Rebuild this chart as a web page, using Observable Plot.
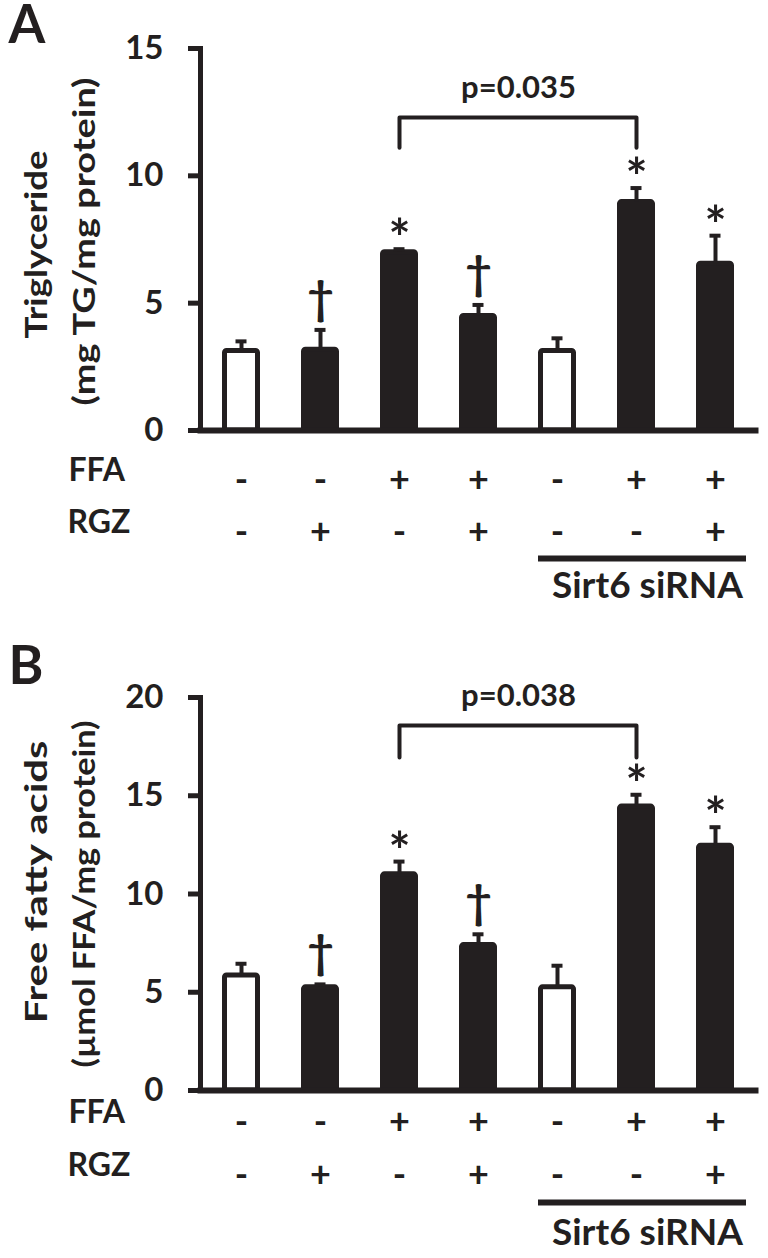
<!DOCTYPE html>
<html>
<head>
<meta charset="utf-8">
<script src="https://cdn.jsdelivr.net/npm/d3@7"></script>
<script src="https://cdn.jsdelivr.net/npm/@observablehq/plot@0.6"></script>
<style>
  body { margin: 0; background: #fff; }
  #chart { width: 768px; }
  #chart svg { display: block; }
</style>
</head>
<body>
<div id="chart"></div>
<script>
// ---------- data ----------
const groups = ["g1", "g2", "g3", "g4", "g5", "g6", "g7"];
const openBar = [true, false, false, false, true, false, false];
const ffaSigns = ["-", "-", "+", "+", "-", "+", "+"];
const rgzSigns = ["-", "+", "-", "+", "-", "-", "+"];
const sigMarks = ["", "\u2020", "*", "\u2020", "", "*", "*"];
const sirnaGroups = ["g5", "g7"];
const bracketGroups = ["g3", "g6"];

// Panel A: triglyceride (mg TG/mg protein)
const tgMean = [3.12, 3.17, 7.0, 4.5, 3.12, 8.97, 6.55];
const tgErr = [0.38, 0.78, 0.12, 0.43, 0.5, 0.55, 1.1];
const tgTicks = [0, 5, 10, 15];
const tgBracket = [11.1, 12.29];
const tgP = "p=0.035";

// Panel B: free fatty acids (µmol FFA/mg protein)
const ffaMean = [5.85, 5.25, 11.0, 7.4, 5.25, 14.45, 12.45];
const ffaErr = [0.6, 0.15, 0.65, 0.55, 1.1, 0.6, 0.95];
const ffaTicks = [0, 5, 10, 15, 20];
const ffaBracket = [16.95, 18.57];
const ffaP = "p=0.038";

const ink = "#231f20";
const font = "Lato, 'Open Sans', 'Noto Sans', sans-serif";

function panel(cfg) {
  const data = groups.map((g, i) => ({
    g, v: cfg.mean[i], top: cfg.mean[i] + cfg.err[i],
    open: openBar[i], sig: sigMarks[i], ffa: ffaSigns[i], rgz: rgzSigns[i], zero: 0
  }));
  const bracket = [
    {g: bracketGroups[0], y: cfg.bracket[0]},
    {g: bracketGroups[0], y: cfg.bracket[1]},
    {g: bracketGroups[1], y: cfg.bracket[1]},
    {g: bracketGroups[1], y: cfg.bracket[0]}
  ];
  const sirna = [{a: sirnaGroups[0], b: sirnaGroups[1], y: 0}];
  const svg = Plot.plot({
    width: 768,
    height: cfg.height,
    marginTop: cfg.marginTop,
    marginBottom: cfg.marginBottom,
    marginLeft: 200,
    marginRight: 13,
    style: {fontFamily: font, fontWeight: "bold", color: ink, background: "white", overflow: "visible"},
    x: {type: "band", domain: groups, paddingInner: 0.52, paddingOuter: 0.26, axis: null},
    y: {domain: [0, cfg.ticks[cfg.ticks.length - 1]], axis: null},
    marks: [
      // bars
      Plot.barY(data.filter(d => d.open), {x: "g", y: "v", fill: "white", stroke: ink, strokeWidth: 5, insetLeft: 2.5, insetRight: 2.5, rx: 2}),
      Plot.barY(data.filter(d => !d.open), {x: "g", y: "v", fill: ink, stroke: ink, strokeWidth: 5, insetLeft: 2.5, insetRight: 2.5, rx: 2}),
      // error bars (upper only)
      Plot.ruleX(data, {x: "g", y1: "v", y2: "top", stroke: ink, strokeWidth: 4}),
      Plot.tickY(data, {x: "g", y: "top", stroke: ink, strokeWidth: 4, insetLeft: 13.5, insetRight: 13.5}),
      // axes
      Plot.axisY({ticks: cfg.ticks, tickSize: 12, tickPadding: 25, strokeWidth: 5, stroke: ink, fill: ink, fontSize: 33, fontWeight: "bold", label: null}),
      Plot.frame({anchor: "left", stroke: ink, strokeWidth: 5}),
      Plot.frame({anchor: "bottom", stroke: ink, strokeWidth: 6}),
      // significance marks
      Plot.text(data.filter(d => d.sig === "*"), {x: "g", y: "top", text: "sig", fontSize: 52, lineAnchor: "bottom", dy: 8, fill: ink}),
      Plot.text(data.filter(d => d.sig === "\u2020"), {x: "g", y: "top", text: "sig", fontSize: 46, lineAnchor: "bottom", dy: -16, fill: ink}),
      // bracket and p value
      Plot.line(bracket, {x: "g", y: "y", stroke: ink, strokeWidth: 4}),
      Plot.text([cfg.p], {x: () => "g4", y: () => cfg.bracket[1], text: d => d, dx: 40, dy: cfg.pDy, fontSize: 31, fill: ink}),
      // treatment rows
      Plot.text(data, {x: "g", y: "zero", text: "ffa", dy: cfg.ffaDy, fontSize: 36, fill: ink}),
      Plot.text(data, {x: "g", y: "zero", text: "rgz", dy: cfg.rgzDy, fontSize: 36, fill: ink}),
      Plot.text(["FFA"], {frameAnchor: "bottom-left", text: d => d, textAnchor: "start", dx: -132, dy: cfg.ffaDy, fontSize: 32, fill: ink}),
      Plot.text(["RGZ"], {frameAnchor: "bottom-left", text: d => d, textAnchor: "start", dx: -133, dy: cfg.rgzDy, fontSize: 32, fill: ink}),
      Plot.ruleY(sirna, {y: "y", x1: "a", x2: "b", dy: cfg.lineDy, stroke: ink, strokeWidth: 6, insetRight: -12}),
      Plot.text(["Sirt6 siRNA"], {x: () => "g6", y: () => 0, text: d => d, dx: 11, dy: cfg.sirnaDy, fontSize: 37, fill: ink}),
      // y-axis titles (start anchored at the bottom of the rotated text)
      Plot.text([cfg.title1], {frameAnchor: "left", text: d => d, rotate: -90, textAnchor: "start", dx: -163.5, dy: cfg.t1Dy, fontSize: 31, fill: ink}),
      Plot.text([cfg.title2], {frameAnchor: "left", text: d => d, rotate: -90, textAnchor: "start", dx: -115, dy: cfg.t2Dy, fontSize: 31, fill: ink}),
      // panel letter
      Plot.text([cfg.letter], {frameAnchor: "top-left", text: d => d, textAnchor: "start", lineAnchor: "bottom", dx: -192, dy: cfg.letterDy, fontSize: 53, fill: ink})
    ]
  });
  d3.select(svg).selectAll("text").each(function () {
    const t = this.textContent;
    if (t === cfg.title1) { this.setAttribute("textLength", cfg.t1Len); this.setAttribute("lengthAdjust", "spacingAndGlyphs"); }
    if (t === cfg.title2) { this.setAttribute("textLength", cfg.t2Len); this.setAttribute("lengthAdjust", "spacingAndGlyphs"); }
  });
  return svg;
}

const root = document.getElementById("chart");
root.append(panel({
  letter: "A", mean: tgMean, err: tgErr, ticks: tgTicks, bracket: tgBracket, p: tgP,
  height: 640, marginTop: 48, marginBottom: 210,
  pDy: -29, ffaDy: 50, rgzDy: 102, lineDy: 128, sirnaDy: 156,
  title1: "Triglyceride", title2: "(mg TG/mg protein)", t1Dy: 99, t2Dy: 166, t1Len: 188, t2Len: 328,
  letterDy: -6
}));
root.append(panel({
  letter: "B", mean: ffaMean, err: ffaErr, ticks: ffaTicks, bracket: ffaBracket, p: ffaP,
  height: 618, marginTop: 57, marginBottom: 168,
  pDy: -30, ffaDy: 32, rgzDy: 85, lineDy: 112, sirnaDy: 143,
  title1: "Free fatty acids", title2: "(\u00b5mol FFA/mg protein)", t1Dy: 129.5, t2Dy: 173.5, t1Len: 283, t2Len: 347,
  letterDy: -14
}));
</script>
</body>
</html>
